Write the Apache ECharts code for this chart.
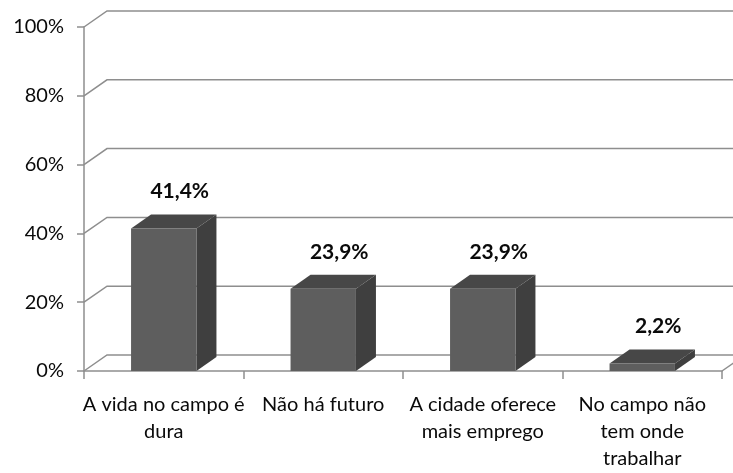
<!DOCTYPE html>
<html>
<head>
<meta charset="utf-8">
<script src="https://cdn.jsdelivr.net/npm/echarts@6/dist/echarts.min.js"></script>
<style>
html,body{margin:0;padding:0;background:#ffffff;}
#chart{width:733px;height:473px;}
</style>
</head>
<body>
<div id="chart"></div>
<script>
var categories = ["A vida no campo é\ndura", "Não há futuro", "A cidade oferece\nmais emprego", "No campo não\ntem onde\ntrabalhar"];
var values = [41.4, 23.9, 23.9, 2.2];
var yTicks = [0, 20, 40, 60, 80, 100];

var FONT = "Lato, 'Liberation Sans', sans-serif";
var WALL_DX = 23, WALL_DY = -16;
var BAR_DX = 20, BAR_DY = -14;
var GRID_COLOR = '#8e8e8e';

function fmt(v){ return v.toFixed(1).replace('.', ',') + '%'; }

var chart = echarts.init(document.getElementById('chart'), null, {renderer: 'canvas'});

function renderWall(params, api) {
  var cs = params.coordSys;
  var v = api.value(1);
  var y = api.coord([0, v])[1];
  var x0 = cs.x;
  var children = [{
    type: 'polyline',
    shape: {points: [[x0, y], [x0 + WALL_DX, y + WALL_DY], [cs.x + cs.width + WALL_DX + 30, y + WALL_DY]]},
    style: {stroke: GRID_COLOR, lineWidth: 1.5, fill: null}
  }];
  if (v === 0) {
    children.push({
      type: 'line',
      shape: {x1: cs.x + cs.width, y1: y, x2: cs.x + cs.width + WALL_DX, y2: y + WALL_DY},
      style: {stroke: GRID_COLOR, lineWidth: 1.5}
    });
  }
  return {type: 'group', children: children};
}

function renderBar(params, api) {
  var idx = api.value(0);
  var v = api.value(1);
  var pb = api.coord([idx, 0]);
  var pt = api.coord([idx, v]);
  var bw = api.size([1, 0])[0] * 0.41;
  var xl = pb[0] - bw / 2, xr = pb[0] + bw / 2;
  var yt = pt[1], yb = pb[1];
  return {
    type: 'group',
    children: [
      {type: 'polygon', shape: {points: [[xr, yt], [xr + BAR_DX, yt + BAR_DY], [xr + BAR_DX, yb + BAR_DY], [xr, yb]]},
        style: {fill: '#3f3f3f'}},
      {type: 'polygon', shape: {points: [[xl, yt], [xr, yt], [xr + BAR_DX, yt + BAR_DY], [xl + BAR_DX, yt + BAR_DY]]},
        style: {fill: '#474747'}},
      {type: 'rect', shape: {x: xl, y: yt, width: bw, height: yb - yt},
        style: {fill: '#5e5e5e'}},
      {type: 'text', x: pb[0] + 16, y: yt - 37,
        style: {text: fmt(v), fill: '#0a0a0a', font: 'bold 21px ' + FONT, align: 'center', verticalAlign: 'middle'}}
    ]
  };
}

var option = {
  animation: false,
  backgroundColor: '#ffffff',
  grid: {left: 84, right: 11, top: 27, bottom: 102, containLabel: false},
  xAxis: {
    type: 'category',
    data: categories,
    boundaryGap: true,
    axisLine: {show: true, lineStyle: {color: GRID_COLOR, width: 1.5}},
    axisTick: {show: true, length: 8, lineStyle: {color: GRID_COLOR, width: 1.5}},
    axisLabel: {interval: 0, color: '#0a0a0a', fontFamily: FONT, fontSize: 20, lineHeight: 27, margin: 20, align: 'center'}
  },
  yAxis: {
    type: 'value',
    min: 0, max: 100, interval: 20,
    axisLine: {show: true, lineStyle: {color: GRID_COLOR, width: 1.5}},
    axisTick: {show: true, length: 7, lineStyle: {color: GRID_COLOR, width: 1.5}},
    splitLine: {show: false},
    axisLabel: {formatter: '{value}%', color: '#0a0a0a', fontFamily: FONT, fontSize: 20, margin: 20}
  },
  series: [
    {
      type: 'custom',
      name: 'walls',
      z: 1,
      clip: false,
      silent: true,
      renderItem: renderWall,
      data: yTicks.map(function(t){ return [0, t]; })
    },
    {
      type: 'custom',
      name: 'bars',
      z: 5,
      clip: false,
      renderItem: renderBar,
      data: values.map(function(v, i){ return [i, v]; })
    }
  ]
};
chart.setOption(option);
</script>
</body>
</html>
